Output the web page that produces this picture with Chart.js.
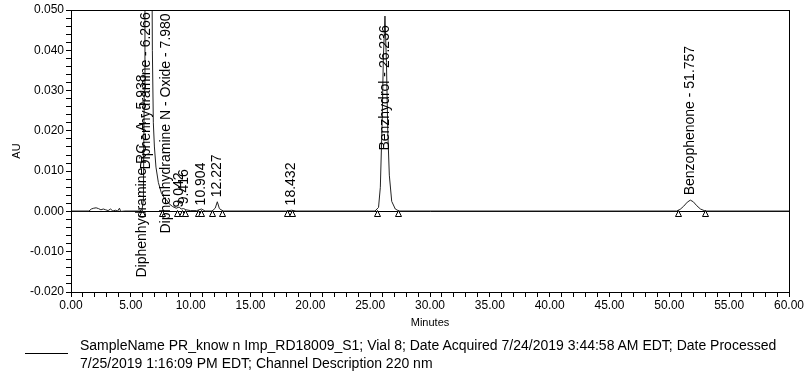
<!DOCTYPE html>
<html>
<head>
<meta charset="utf-8">
<script src="https://cdn.jsdelivr.net/npm/chart.js@4/dist/chart.umd.min.js"></script>
<style>
  html, body { margin: 0; padding: 0; background: #fff; }
  #wrap { position: relative; width: 808px; height: 377px; overflow: hidden; }
  #c { position: absolute; left: 0; top: 0; }
  #legLine { position: absolute; left: 25px; top: 353px; width: 43px; height: 0; border-top: 1px solid #000; }
  #legText { position: absolute; left: 80px; top: 336px; width: 720px; font-family: "Liberation Sans", Arial, sans-serif; font-size: 14px; line-height: 18px; color: #000; white-space: nowrap; }
</style>
</head>
<body>
<div id="wrap">
  <canvas id="c" width="808" height="377"></canvas>
  <div id="legLine"></div>
  <div id="legText"><div id="l1">SampleName PR_know n Imp_RD18009_S1; Vial 8; Date Acquired 7/24/2019 3:44:58 AM EDT; Date Processed</div><div id="l2">7/25/2019 1:16:09 PM EDT; Channel Description 220 nm</div></div>
</div>
<script>
// ---- Data ----
const traceTimes = [0, 1.5, 1.7, 1.9, 2.1, 2.3, 2.5, 2.7, 2.9, 3.1, 3.3, 3.5, 3.7, 3.9, 4.05, 4.15, 4.5,
  5.7, 5.938, 6.05, 6.12, 6.18, 6.266, 6.4, 6.6, 6.75, 6.8, 6.88, 6.97, 7.1, 7.3, 7.55, 7.85, 7.98, 8.2, 8.5, 8.8, 9.042, 9.2, 9.416, 9.6, 10.0,
  10.5, 10.904, 11.2, 11.8, 12.05, 12.227, 12.4, 12.7, 18.0, 18.432, 18.8,
  25.4, 25.7, 25.85, 26.0, 26.1, 26.236, 26.36, 26.47, 26.6, 26.8, 27.1, 27.4,
  50.6, 50.9, 51.2, 51.5, 51.757, 52.0, 52.3, 52.6, 53.0, 60];
const traceAU = [0.0001, 0.0001, 0.0006, 0.0008, 0.0009, 0.0007, 0.0004, 0.0006, 0.0004, 0.0002, 0.0006, 0.0001, 0.0003, 0.0001, 0.0008, 0.0000, 0.0001,
  0.0001, 0.0004, 0.003, 0.03, 0.15, 0.60, 0.35, 0.15, 0.07, 0.04, 0.022, 0.016, 0.011, 0.0072, 0.0046, 0.0030, 0.0029, 0.0019, 0.0012, 0.0008, 0.0011, 0.0006, 0.0007, 0.0004, 0.0002,
  0.0002, 0.0006, 0.0001, 0.0001, 0.0008, 0.0024, 0.0007, 0.0001, 0.0001, 0.0003, 0.0001,
  0.0001, 0.001, 0.006, 0.022, 0.038, 0.0485, 0.037, 0.02, 0.009, 0.0025, 0.0006, 0.0001,
  0.0001, 0.0005, 0.0013, 0.0023, 0.0028, 0.0024, 0.0014, 0.0006, 0.0001, 0.0001];

const peakNames = ["Diphenhydramine RC - A - 5.938", "Diphenhydramine - 6.266", "Diphenhydramine N - Oxide - 7.980",
  "9.042", "9.416", "10.904", "12.227", "18.432", "Benzhydrol - 26.236", "Benzophenone - 51.757"];
const peakTimes = [5.938, 6.266, 7.980, 9.042, 9.416, 10.904, 12.227, 18.432, 26.236, 51.757];
const labelBaseAU = [-0.0164, 0.0104, -0.0055, 0.0010, 0.0018, 0.0015, 0.0035, 0.0015, 0.0151, 0.0040];

const baselineMarkTimes = [5.92, 7.57, 8.83, 9.25, 9.52, 10.6, 10.9, 11.75, 12.6, 18.02, 18.44, 25.54, 27.35, 50.7, 52.97];

const xTickMin = 0, xTickMax = 60, xMajor = 5, xMinor = 1;
const yTickMin = -0.020, yTickMax = 0.050, yMajor = 0.010, yMinor = 0.002;

const FONT = '"Liberation Sans", Arial, sans-serif';

const points = traceTimes.map((t, i) => ({ x: t, y: traceAU[i] }));

const frame = {
  id: 'frame',
  afterDraw(chart) {
    const { ctx, chartArea: a } = chart;
    ctx.save();
    ctx.strokeStyle = '#000';
    ctx.lineWidth = 1;
    ctx.strokeRect(Math.round(a.left) + 0.5, Math.round(a.top) + 0.5, Math.round(a.right - a.left), Math.round(a.bottom - a.top));
    ctx.restore();
  }
};

const annotations = {
  id: 'annotations',
  afterDatasetsDraw(chart) {
    const { ctx, scales: { x, y } } = chart;
    ctx.save();
    // baseline start/end markers
    ctx.strokeStyle = '#000';
    ctx.lineWidth = 1;
    baselineMarkTimes.forEach(t => {
      const px = Math.round(x.getPixelForValue(t)) + 0.5;
      const py = Math.round(y.getPixelForValue(0)) + 0.5;
      ctx.beginPath();
      ctx.moveTo(px, py - 1);
      ctx.lineTo(px - 3, py + 5);
      ctx.lineTo(px + 3, py + 5);
      ctx.closePath();
      ctx.fillStyle = '#fff';
      ctx.fill();
      ctx.stroke();
    });
    // peak labels
    ctx.fillStyle = '#000';
    ctx.font = '14px ' + FONT;
    ctx.textAlign = 'left';
    ctx.textBaseline = 'middle';
    peakNames.forEach((name, i) => {
      const px = x.getPixelForValue(peakTimes[i]);
      const py = y.getPixelForValue(labelBaseAU[i]);
      ctx.save();
      ctx.translate(px, py);
      ctx.rotate(-Math.PI / 2);
      ctx.fillText(name, 0, 0);
      ctx.restore();
    });
    ctx.restore();
  }
};

new Chart(document.getElementById('c'), {
  type: 'line',
  data: {
    datasets: [{
      data: points,
      borderColor: '#222',
      borderWidth: 1,
      pointRadius: 0,
      tension: 0,
      fill: false
    }]
  },
  options: {
    responsive: false,
    animation: false,
    devicePixelRatio: 1,
    layout: { padding: { left: 0, top: 10, right: 19, bottom: 47 } },
    plugins: { legend: { display: false }, tooltip: { enabled: false } },
    scales: {
      x: {
        type: 'linear',
        min: xTickMin, max: xTickMax,
        afterBuildTicks(scale) {
          const t = [];
          for (let v = xTickMin; v <= xTickMax + 1e-9; v += xMinor) t.push({ value: Math.round(v * 1000) / 1000 });
          scale.ticks = t;
        },
        afterFit(scale) { scale.height = 38; },
        border: { display: true, color: '#000', width: 1 },
        grid: { drawOnChartArea: false, drawTicks: true, tickLength: 5, color: '#000', tickColor: '#000' },
        ticks: {
          autoSkip: false, maxRotation: 0, padding: 1, color: '#000',
          font: { family: FONT, size: 12 },
          callback: (v) => (Math.abs(v % xMajor) < 1e-6 ? v.toFixed(2) : '')
        },
        title: { display: true, text: 'Minutes', color: '#000', font: { family: FONT, size: 11 }, padding: { top: 0, bottom: 0 } }
      },
      y: {
        type: 'linear',
        min: yTickMin, max: yTickMax,
        afterBuildTicks(scale) {
          const t = [];
          for (let k = 0; k <= Math.round((yTickMax - yTickMin) / yMinor); k++) t.push({ value: Math.round((yTickMin + k * yMinor) * 1e6) / 1e6 });
          scale.ticks = t;
        },
        afterFit(scale) { scale.width = 71; },
        border: { display: true, color: '#000', width: 1 },
        grid: {
          drawOnChartArea: true, drawTicks: true, tickLength: 5, tickColor: '#000',
          color: (c) => (c.tick && Math.abs(c.tick.value) < 1e-9 ? '#000' : 'rgba(0,0,0,0)')
        },
        ticks: {
          autoSkip: false, padding: 2, color: '#000',
          font: { family: FONT, size: 12 },
          callback: (v) => {
            const r = Math.round(v / yMinor);
            return (r % 5 === 0) ? v.toFixed(3) : '';
          }
        },
        title: { display: true, text: 'AU', color: '#000', font: { family: FONT, size: 11 }, padding: { top: 10, bottom: 0 } }
      }
    }
  },
  plugins: [frame, annotations]
});
</script>
</body>
</html>
